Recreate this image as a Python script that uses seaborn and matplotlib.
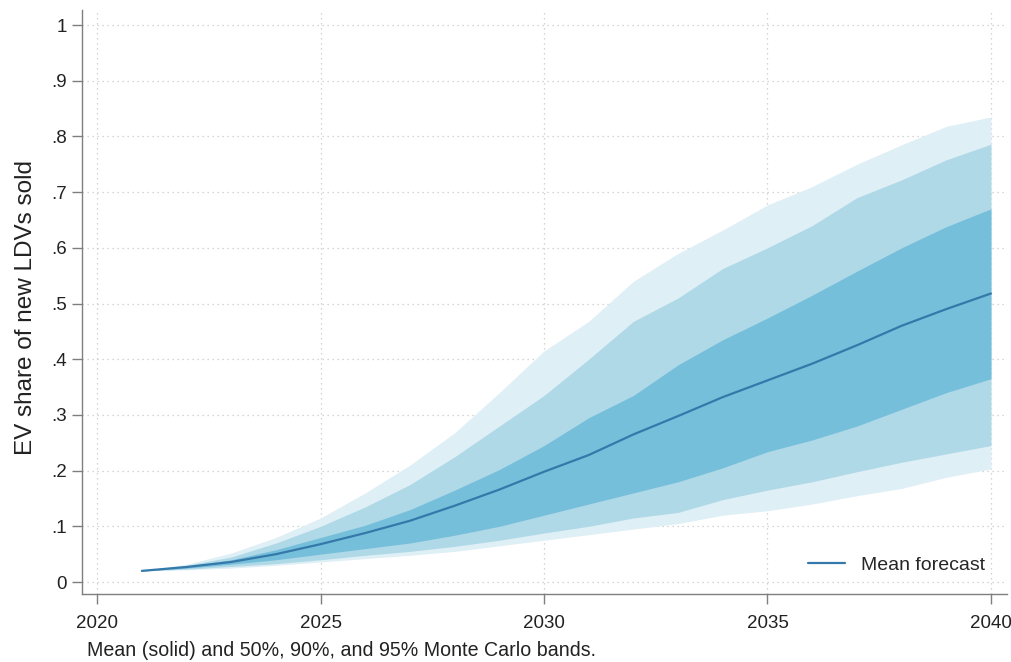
import numpy as np
import pandas as pd
import matplotlib
matplotlib.use('Agg')
import matplotlib.pyplot as plt
import seaborn as sns

# Years of the Monte Carlo forecast
years = list(range(2021, 2041))

# Mean forecast
mean_fc = [0.020, 0.027, 0.036, 0.050, 0.068, 0.088, 0.110, 0.137, 0.166, 0.198,
           0.228, 0.265, 0.298, 0.332, 0.362, 0.392, 0.425, 0.460, 0.490, 0.518]

# 95% band
lo95 = [0.020, 0.022, 0.025, 0.030, 0.036, 0.042, 0.048, 0.055, 0.065, 0.075,
        0.085, 0.095, 0.105, 0.120, 0.128, 0.140, 0.155, 0.168, 0.188, 0.203]
hi95 = [0.020, 0.032, 0.052, 0.080, 0.115, 0.160, 0.210, 0.268, 0.340, 0.415,
        0.468, 0.540, 0.590, 0.632, 0.677, 0.710, 0.750, 0.785, 0.818, 0.835]

# 90% band
lo90 = [0.020, 0.023, 0.028, 0.033, 0.040, 0.048, 0.055, 0.064, 0.075, 0.088,
        0.100, 0.115, 0.125, 0.148, 0.165, 0.180, 0.198, 0.215, 0.230, 0.245]
hi90 = [0.020, 0.030, 0.045, 0.070, 0.100, 0.135, 0.175, 0.225, 0.280, 0.335,
        0.400, 0.468, 0.510, 0.563, 0.600, 0.640, 0.690, 0.722, 0.758, 0.786]

# 50% band
lo50 = [0.020, 0.025, 0.032, 0.040, 0.050, 0.060, 0.070, 0.084, 0.100, 0.120,
        0.140, 0.160, 0.180, 0.205, 0.234, 0.255, 0.280, 0.310, 0.340, 0.365]
hi50 = [0.020, 0.028, 0.040, 0.058, 0.080, 0.102, 0.130, 0.165, 0.202, 0.245,
        0.295, 0.335, 0.390, 0.435, 0.474, 0.515, 0.558, 0.600, 0.638, 0.670]

df = pd.DataFrame({'year': years, 'mean': mean_fc})

sns.set_style('white')
plt.rcParams['font.family'] = ['Liberation Sans', 'DejaVu Sans']

fig = plt.figure(figsize=(10.11, 6.62), dpi=100)
ax = fig.add_axes([82 / 1011, 68 / 662, 925 / 1011, 584 / 662])

# Bands, widest first
ax.fill_between(years, lo95, hi95, color='#dfeff6', linewidth=0)
ax.fill_between(years, lo90, hi90, color='#b0d9e8', linewidth=0)
ax.fill_between(years, lo50, hi50, color='#76bfdb', linewidth=0)
sns.lineplot(data=df, x='year', y='mean', ax=ax, color='#3579ab', linewidth=1.6,
             label='Mean forecast')

ax.set_xlim(2019.66, 2040.36)
ax.set_ylim(-0.0215, 1.027)
ax.set_xticks([2020, 2025, 2030, 2035, 2040])
yt = np.round(np.arange(0, 1.01, 0.1), 1)
ax.set_yticks(yt)
ax.set_yticklabels(['0', '.1', '.2', '.3', '.4', '.5', '.6', '.7', '.8', '.9', '1'])
ax.grid(True, linestyle=(0, (1, 3)), color='#c8c8c8', linewidth=0.9)
for l in ax.get_xgridlines() + ax.get_ygridlines():
    l.set_zorder(0.5)

for s in ['top', 'right']:
    ax.spines[s].set_visible(False)
for s in ['left', 'bottom']:
    ax.spines[s].set_color('#7f7f7f')
    ax.spines[s].set_linewidth(1.0)
ax.tick_params(axis='both', direction='out', length=7, width=1, color='#7f7f7f',
               labelsize=13.5, labelcolor='#222222', bottom=True, left=True)
ax.tick_params(axis='x', pad=8)
ax.tick_params(axis='y', pad=4)

ax.set_xlabel('')
ax.set_ylabel('EV share of new LDVs sold', fontsize=17.5, color='#222222')
ax.yaxis.set_label_coords((37 - 82) / 925, 0.49)

leg = ax.legend(loc='lower right', frameon=False, fontsize=14, handlelength=1.9,
                bbox_to_anchor=(0.995, 0.004))

fig.text(87 / 1011, 1 - 650 / 662, 'Mean (solid) and 50%, 90%, and 95% Monte Carlo bands.',
         fontsize=14.1, color='#222222', va='center', ha='left')

fig.savefig('out.png', dpi=100)
